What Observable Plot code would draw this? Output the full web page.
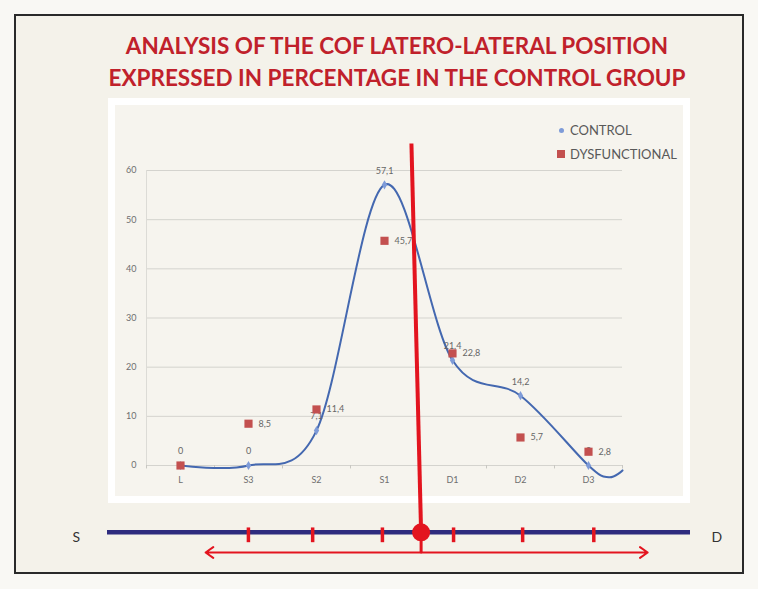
<!DOCTYPE html>
<html>
<head>
<meta charset="utf-8">
<script src="https://cdn.jsdelivr.net/npm/d3@7"></script>
<script src="https://cdn.jsdelivr.net/npm/@observablehq/plot@0.6"></script>
<style>
  html, body { margin: 0; padding: 0; background: #f9f8f4; }
  #page { position: relative; width: 758px; height: 589px; overflow: hidden; font-family: Lato, "Open Sans", sans-serif; }
  #frame { position: absolute; left: 14px; top: 14px; width: 726px; height: 556px; border: 2px solid #2a2a2a; background: #f4f2ea; }
  #title { position: absolute; left: 0; top: 30px; width: 794px; text-align: center; color: #c0212b; font-weight: 700; font-size: 22.5px; line-height: 32px; }
  #panel { position: absolute; left: 108px; top: 98px; width: 568px; height: 391px; border: 7px solid #ffffff; background: #f6f4ee; }
  .layer { position: absolute; left: 0; top: 0; }
  #legend { position: absolute; left: 556px; top: 118px; font-size: 13px; color: #595959; line-height: 24px; }
  #legend .row { display: flex; align-items: center; }
  #legend .sw { display: inline-block; }
</style>
</head>
<body>
<div id="page">
  <div id="frame"></div>
  <div id="title"><div>ANALYSIS OF THE COF LATERO-LATERAL POSITION</div><div>EXPRESSED IN PERCENTAGE IN THE CONTROL GROUP</div></div>
  <div id="panel"></div>
  <div id="chart" class="layer"></div>
  <div id="overlay" class="layer"></div>
  <div id="legend">
    <div class="row"><span class="sw" style="width:5px;height:5px;border-radius:50%;background:#7e9bd8;margin-left:3px;margin-right:6px"></span>CONTROL</div>
    <div class="row"><span class="sw" style="width:8px;height:8px;background:#c3504f;margin-left:1px;margin-right:5px"></span>DYSFUNCTIONAL</div>
  </div>
</div>
<script>
// ---- chart data ----
const categories = ["L", "S3", "S2", "S1", "D1", "D2", "D3"];
const control = [0, 0, 7.1, 57.1, 21.4, 14.2, 0];
const dysfunctional = [0, 8.5, 11.4, 45.7, 22.8, 5.7, 2.8];
// smoothed control curve continues past D3 to the plot edge
const controlTailPos = [6.3, 6.5];
const controlTailValue = [-2.4, -1.0];
const yTicks = [0, 10, 20, 30, 40, 50, 60];

// ---- schematic S–D bar below the chart (schematic units) ----
const sdTicks = [-2.5, -1.57, -0.56, 0.47, 1.47, 2.5];
const sdAxisExtent = [-4.54, 3.9];
const sdArrowExtent = [-3.12, 3.28];
const sdEndLabels = ["S", "D"];
const sdEndPos = [-4.99, 4.28];
const cofPos = 0;

const fmt = v => String(v).replace(".", ",");
const ctrlPts = categories.map((c, i) => ({pos: i, value: control[i], label: fmt(control[i])}));
const dysPts = categories.map((c, i) => ({pos: i, value: dysfunctional[i], label: fmt(dysfunctional[i])}));
const ctrlCurve = ctrlPts.concat(controlTailPos.map((p, i) => ({pos: p, value: controlTailValue[i]})));
const bounds = d3.range(categories.length + 1).map(i => i - 0.5);

const common = {width: 758, height: 589, marginTop: 170, marginBottom: 124};

const chart = Plot.plot({
  ...common,
  marginLeft: 146, marginRight: 136,
  x: {domain: [-0.5, categories.length - 0.5], axis: null},
  y: {domain: [0, 60], axis: null},
  style: {background: "transparent", fontFamily: "Lato, 'Open Sans', sans-serif", overflow: "visible"},
  marks: [
    Plot.ruleY(yTicks, {stroke: "#d4d3ce", strokeWidth: 1}),
    Plot.ruleX([-0.5], {y1: 0, y2: 60, stroke: "#dcdbd6"}),
    Plot.ruleX(bounds, {y1: 0, y2: -0.7, stroke: "#c8c7c2"}),
    Plot.axisY({ticks: yTicks, tickSize: 0, tickPadding: 10, fontSize: 9, fill: "#6e6e6e", label: null}),
    Plot.axisX({ticks: d3.range(categories.length), tickFormat: i => categories[i], tickSize: 0, tickPadding: 11, fontSize: 9, fill: "#6e6e6e", label: null}),
    Plot.line(ctrlCurve, {x: "pos", y: "value", curve: "cardinal", stroke: "#4468b0", strokeWidth: 2}),
    Plot.dot(ctrlPts, {x: "pos", y: "value", symbol: "diamond", r: 2.8, fill: "#7e9bd8"}),
    Plot.text(ctrlPts, {x: "pos", y: "value", text: "label", dy: -14, fontSize: 9, fill: "#666"}),
    Plot.dot(dysPts, {x: "pos", y: "value", symbol: "square", r: 4.6, fill: "#c3504f"}),
    Plot.text(dysPts.filter(d => d.pos > 0), {x: "pos", y: "value", text: "label", dx: 10, textAnchor: "start", fontSize: 9, fill: "#666"})
  ]
});
document.getElementById("chart").append(chart);

const red = "#e3141f";
const overlay = Plot.plot({
  ...common,
  marginLeft: 107, marginRight: 68,
  x: {domain: sdAxisExtent, axis: null},
  y: {domain: [0, 60], axis: null},
  style: {background: "transparent", fontFamily: "Lato, 'Open Sans', sans-serif", overflow: "visible"},
  marks: [
    // S–D axis
    Plot.ruleY([-13.6], {x1: sdAxisExtent[0], x2: sdAxisExtent[1], stroke: "#2e2c7e", strokeWidth: 4.5}),
    Plot.ruleX(sdTicks, {y1: -12.7, y2: -15.7, stroke: red, strokeWidth: 3.5}),
    Plot.text(sdEndLabels, {x: (d, i) => sdEndPos[i], y: -14.6, text: d => d, fontSize: 14, fill: "#333"}),
    // double arrow
    Plot.arrow([sdArrowExtent[0], sdArrowExtent[1]], {x1: cofPos, x2: d => d, y1: -17.7, y2: -17.7, stroke: red, strokeWidth: 2, headLength: 7, headAngle: 70, inset: 0}),
    Plot.ruleX([cofPos], {y1: -13.6, y2: -17.7, stroke: red, strokeWidth: 3}),
    // COF line and marker
    Plot.link([cofPos], {x1: -0.14, y1: 65.5, x2: d => d, y2: -13.6, stroke: red, strokeWidth: 4}),
    Plot.dot([cofPos], {x: d => d, y: -13.6, r: 9, fill: red})
  ]
});
overlay.style.pointerEvents = "none";
document.getElementById("overlay").append(overlay);
</script>
</body>
</html>
